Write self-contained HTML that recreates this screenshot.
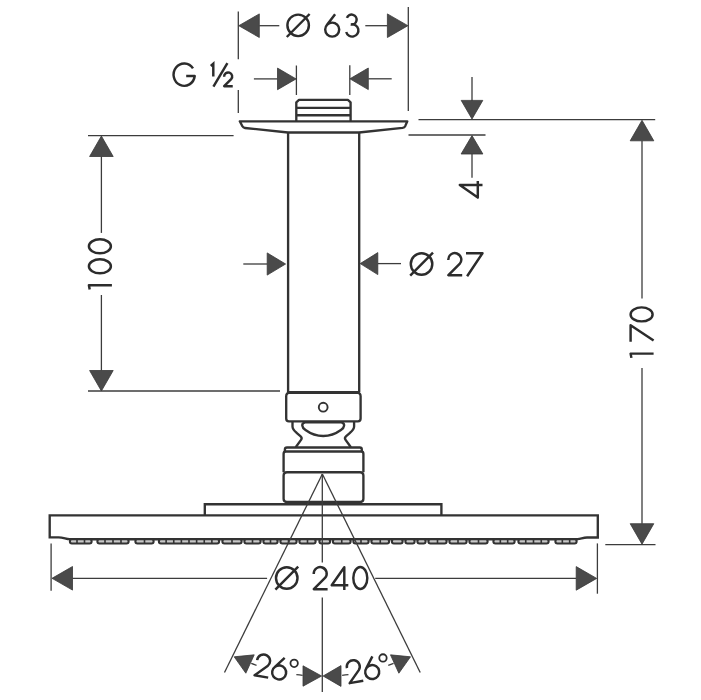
<!DOCTYPE html>
<html><head><meta charset="utf-8"><title>Ceiling shower head – dimensions</title><style>
html,body{margin:0;padding:0;background:#fff;}
body{width:701px;height:700px;overflow:hidden;font-family:"Liberation Sans",sans-serif;}
svg{display:block;}
</style></head><body>
<svg width="701" height="700" viewBox="0 0 701 700" shape-rendering="geometricPrecision" role="img" aria-label="Ceiling shower head dimension drawing: Ø 63, G ½, 4, 100, 170, Ø 27, Ø 240, 26°, 26°">
<rect width="701" height="700" fill="#fff"/>
<path d="M296.3,121 V102.3 L299,99.8 H347.9 L350.6,102.3 V121" stroke="#333333" stroke-width="2.35" fill="none" stroke-linejoin="round"/>
<line x1="296.40" y1="107.80" x2="350.60" y2="107.80" stroke="#333333" stroke-width="2.35"/>
<line x1="296.40" y1="115.20" x2="350.60" y2="115.20" stroke="#333333" stroke-width="2.35"/>
<path d="M239.8,121.3 H407.3 L405.3,125.9 Q404.5,127.6 402.5,127.9 L359,132.5 H288 L245,128.0 Q243.2,127.8 242.4,126.3 Z" stroke="#333333" stroke-width="2.35" fill="none" stroke-linejoin="round"/>
<line x1="288.10" y1="132.50" x2="288.10" y2="392.00" stroke="#333333" stroke-width="2.35"/>
<line x1="359.20" y1="132.50" x2="359.20" y2="392.00" stroke="#333333" stroke-width="2.35"/>
<path d="M286.2,396.3 Q286.2,392.6 289.9,392.6 H356.9 Q360.6,392.6 360.6,396.3 V418.6 Q360.6,421.3 357.9,421.3 H288.9 Q286.2,421.3 286.2,418.6 Z" stroke="#333333" stroke-width="2.35" fill="none" />
<line x1="287.50" y1="392.60" x2="359.60" y2="392.60" stroke="#333333" stroke-width="3.0"/>
<circle cx="323.2" cy="407.2" r="4.4" stroke="#333333" stroke-width="1.9" fill="none"/>
<path d="M292.5,421.5 L292.5,426.6 C292.5,429.2 294,430.8 296.6,432.8 L300.4,436.1 Q302.4,437.9 301.2,439.6 L295.7,447.3" stroke="#333333" stroke-width="2.35" fill="none" stroke-linejoin="round"/>
<path d="M354.1,421.5 L354.1,426.6 C354.1,429.2 352.6,430.8 350,432.8 L346.2,436.1 Q344.2,437.9 345.4,439.6 L350.9,447.3" stroke="#333333" stroke-width="2.35" fill="none" stroke-linejoin="round"/>
<path d="M305,422.4 C301,423.4 301.6,427.4 305.5,430 C311,434 317,436 323.2,436 C329.4,436 335.4,434 340.9,430 C344.8,427.4 345.4,423.4 341.4,422.4 Z" stroke="#333333" stroke-width="2.35" fill="none" />
<path d="M284.9,451.5 V449.6 Q284.9,447.5 287,447.5 H359.8 Q361.8,447.5 361.8,449.6 V451.5" stroke="#333333" stroke-width="2.35" fill="none" />
<path d="M283.6,472.2 V453.7 Q283.6,451.5 286,451.5 H361 Q363.4,451.5 363.4,453.7 V472.2" stroke="#333333" stroke-width="2.35" fill="none" />
<path d="M283.6,475.6 Q283.6,472.2 287,472.2 H360 Q363.4,472.2 363.4,475.6 V498.8 Q363.4,502 360.2,502 H286.8 Q283.6,502 283.6,498.8 Z" stroke="#333333" stroke-width="2.35" fill="none" />
<line x1="285.50" y1="502.30" x2="361.50" y2="502.30" stroke="#333333" stroke-width="2.6"/>
<path d="M204.8,515.4 V504.2 H441.4 V515.4" stroke="#333333" stroke-width="2.35" fill="none" />
<path d="M49.7,515.4 H597.8 V537.5 H587 C583,537.5 581,539 577.5,539.2 L69.5,539.2 C66,539 63,537.3 58.6,537.3 H49.7 Z" stroke="#333333" stroke-width="2.35" fill="none" />
<rect x="69.90" y="539.2" width="21.70" height="4.3" rx="2.0" fill="#c8c8c8" stroke="#333333" stroke-width="2.1"/>
<line x1="77.00" y1="539.5" x2="77.00" y2="543.2" stroke="#333333" stroke-width="1.6"/>
<line x1="84.50" y1="539.5" x2="84.50" y2="543.2" stroke="#333333" stroke-width="1.6"/>
<rect x="97.40" y="539.2" width="31.20" height="4.3" rx="2.0" fill="#c8c8c8" stroke="#333333" stroke-width="2.1"/>
<line x1="105.00" y1="539.5" x2="105.00" y2="543.2" stroke="#333333" stroke-width="1.6"/>
<line x1="113.00" y1="539.5" x2="113.00" y2="543.2" stroke="#333333" stroke-width="1.6"/>
<line x1="121.00" y1="539.5" x2="121.00" y2="543.2" stroke="#333333" stroke-width="1.6"/>
<rect x="135.40" y="539.2" width="18.20" height="4.3" rx="2.0" fill="#c8c8c8" stroke="#333333" stroke-width="2.1"/>
<line x1="144.50" y1="539.5" x2="144.50" y2="543.2" stroke="#333333" stroke-width="1.6"/>
<rect x="158.90" y="539.2" width="60.20" height="4.3" rx="2.0" fill="#c8c8c8" stroke="#333333" stroke-width="2.1"/>
<line x1="166.12" y1="539.5" x2="166.12" y2="543.2" stroke="#333333" stroke-width="1.6"/>
<line x1="173.75" y1="539.5" x2="173.75" y2="543.2" stroke="#333333" stroke-width="1.6"/>
<line x1="181.38" y1="539.5" x2="181.38" y2="543.2" stroke="#333333" stroke-width="1.6"/>
<line x1="189.00" y1="539.5" x2="189.00" y2="543.2" stroke="#333333" stroke-width="1.6"/>
<line x1="196.62" y1="539.5" x2="196.62" y2="543.2" stroke="#333333" stroke-width="1.6"/>
<line x1="204.25" y1="539.5" x2="204.25" y2="543.2" stroke="#333333" stroke-width="1.6"/>
<line x1="211.88" y1="539.5" x2="211.88" y2="543.2" stroke="#333333" stroke-width="1.6"/>
<rect x="222.40" y="539.2" width="19.20" height="4.3" rx="2.0" fill="#c8c8c8" stroke="#333333" stroke-width="2.1"/>
<line x1="232.00" y1="539.5" x2="232.00" y2="543.2" stroke="#333333" stroke-width="1.6"/>
<rect x="244.40" y="539.2" width="16.20" height="4.3" rx="2.0" fill="#c8c8c8" stroke="#333333" stroke-width="2.1"/>
<line x1="252.50" y1="539.5" x2="252.50" y2="543.2" stroke="#333333" stroke-width="1.6"/>
<rect x="263.40" y="539.2" width="14.20" height="4.3" rx="2.0" fill="#c8c8c8" stroke="#333333" stroke-width="2.1"/>
<line x1="270.50" y1="539.5" x2="270.50" y2="543.2" stroke="#333333" stroke-width="1.6"/>
<rect x="280.40" y="539.2" width="16.20" height="4.3" rx="2.0" fill="#c8c8c8" stroke="#333333" stroke-width="2.1"/>
<line x1="288.50" y1="539.5" x2="288.50" y2="543.2" stroke="#333333" stroke-width="1.6"/>
<rect x="299.40" y="539.2" width="16.20" height="4.3" rx="2.0" fill="#c8c8c8" stroke="#333333" stroke-width="2.1"/>
<line x1="307.50" y1="539.5" x2="307.50" y2="543.2" stroke="#333333" stroke-width="1.6"/>
<rect x="319.40" y="539.2" width="10.70" height="4.3" rx="2.0" fill="#c8c8c8" stroke="#333333" stroke-width="2.1"/>
<rect x="332.90" y="539.2" width="17.70" height="4.3" rx="2.0" fill="#c8c8c8" stroke="#333333" stroke-width="2.1"/>
<line x1="341.75" y1="539.5" x2="341.75" y2="543.2" stroke="#333333" stroke-width="1.6"/>
<rect x="353.40" y="539.2" width="15.20" height="4.3" rx="2.0" fill="#c8c8c8" stroke="#333333" stroke-width="2.1"/>
<line x1="361.00" y1="539.5" x2="361.00" y2="543.2" stroke="#333333" stroke-width="1.6"/>
<rect x="371.40" y="539.2" width="17.70" height="4.3" rx="2.0" fill="#c8c8c8" stroke="#333333" stroke-width="2.1"/>
<line x1="380.25" y1="539.5" x2="380.25" y2="543.2" stroke="#333333" stroke-width="1.6"/>
<rect x="391.90" y="539.2" width="10.70" height="4.3" rx="2.0" fill="#c8c8c8" stroke="#333333" stroke-width="2.1"/>
<rect x="405.40" y="539.2" width="9.20" height="4.3" rx="2.0" fill="#c8c8c8" stroke="#333333" stroke-width="2.1"/>
<rect x="417.40" y="539.2" width="8.20" height="4.3" rx="2.0" fill="#c8c8c8" stroke="#333333" stroke-width="2.1"/>
<rect x="428.40" y="539.2" width="18.20" height="4.3" rx="2.0" fill="#c8c8c8" stroke="#333333" stroke-width="2.1"/>
<line x1="437.50" y1="539.5" x2="437.50" y2="543.2" stroke="#333333" stroke-width="1.6"/>
<rect x="449.40" y="539.2" width="17.20" height="4.3" rx="2.0" fill="#c8c8c8" stroke="#333333" stroke-width="2.1"/>
<line x1="458.00" y1="539.5" x2="458.00" y2="543.2" stroke="#333333" stroke-width="1.6"/>
<rect x="469.40" y="539.2" width="18.20" height="4.3" rx="2.0" fill="#c8c8c8" stroke="#333333" stroke-width="2.1"/>
<line x1="478.50" y1="539.5" x2="478.50" y2="543.2" stroke="#333333" stroke-width="1.6"/>
<rect x="493.40" y="539.2" width="21.20" height="4.3" rx="2.0" fill="#c8c8c8" stroke="#333333" stroke-width="2.1"/>
<line x1="500.33" y1="539.5" x2="500.33" y2="543.2" stroke="#333333" stroke-width="1.6"/>
<line x1="507.67" y1="539.5" x2="507.67" y2="543.2" stroke="#333333" stroke-width="1.6"/>
<rect x="518.40" y="539.2" width="30.20" height="4.3" rx="2.0" fill="#c8c8c8" stroke="#333333" stroke-width="2.1"/>
<line x1="525.75" y1="539.5" x2="525.75" y2="543.2" stroke="#333333" stroke-width="1.6"/>
<line x1="533.50" y1="539.5" x2="533.50" y2="543.2" stroke="#333333" stroke-width="1.6"/>
<line x1="541.25" y1="539.5" x2="541.25" y2="543.2" stroke="#333333" stroke-width="1.6"/>
<rect x="555.40" y="539.2" width="21.20" height="4.3" rx="2.0" fill="#c8c8c8" stroke="#333333" stroke-width="2.1"/>
<line x1="562.33" y1="539.5" x2="562.33" y2="543.2" stroke="#333333" stroke-width="1.6"/>
<line x1="569.67" y1="539.5" x2="569.67" y2="543.2" stroke="#333333" stroke-width="1.6"/>
<line x1="238.30" y1="11.50" x2="238.30" y2="59.30" stroke="#3c3c3c" stroke-width="1.3"/>
<line x1="238.30" y1="90.00" x2="238.30" y2="112.90" stroke="#3c3c3c" stroke-width="1.3"/>
<line x1="408.30" y1="7.00" x2="408.30" y2="111.00" stroke="#3c3c3c" stroke-width="1.3"/>
<path d="M238.80,25.70 L259.30,13.90 L259.30,37.50 Z" fill="#4a4a4a" stroke="#383838" stroke-width="0.8" stroke-linejoin="miter"/>
<line x1="259.30" y1="25.70" x2="279.30" y2="25.70" stroke="#3c3c3c" stroke-width="1.3"/>
<path d="M407.90,25.70 L387.40,37.50 L387.40,13.90 Z" fill="#4a4a4a" stroke="#383838" stroke-width="0.8" stroke-linejoin="miter"/>
<line x1="365.30" y1="25.70" x2="387.40" y2="25.70" stroke="#3c3c3c" stroke-width="1.3"/>
<path transform="translate(286.40,13.60)" d="M1,11.75 A10.75,10.75 0 1,1 22.5,11.75 A10.75,10.75 0 1,1 1,11.75 Z M0.4,23.4 L23.2,0.4" stroke="#2c2c2c" stroke-width="2.45" fill="none" stroke-linejoin="round"/>
<path transform="translate(324.20,13.60)" d="M10.9,0.6 L2.45,11.76 M1,16 A7,7 0 1,1 15,16 A7,7 0 1,1 1,16 Z" stroke="#2c2c2c" stroke-width="2.45" fill="none" stroke-linejoin="round"/>
<path transform="translate(344.60,13.60)" d="M2.30,4.29 A5,5 0 1,1 6.13,10.92 M6.31,10.74 A6.2,6.2 0 1,1 1.61,18.40" stroke="#2c2c2c" stroke-width="2.45" fill="none" stroke-linejoin="round"/>
<line x1="296.40" y1="65.50" x2="296.40" y2="95.00" stroke="#3c3c3c" stroke-width="1.3"/>
<line x1="349.80" y1="65.20" x2="349.80" y2="95.00" stroke="#3c3c3c" stroke-width="1.3"/>
<path d="M296.10,78.90 L277.50,89.70 L277.50,68.10 Z" fill="#4a4a4a" stroke="#383838" stroke-width="0.8" stroke-linejoin="miter"/>
<line x1="253.90" y1="78.90" x2="277.50" y2="78.90" stroke="#3c3c3c" stroke-width="1.3"/>
<path d="M349.90,78.80 L368.30,68.00 L368.30,89.60 Z" fill="#4a4a4a" stroke="#383838" stroke-width="0.8" stroke-linejoin="miter"/>
<line x1="368.30" y1="78.80" x2="391.70" y2="78.80" stroke="#3c3c3c" stroke-width="1.3"/>
<path transform="translate(172.60,62.40)" d="M20.39,5.94 A10.6,11.2 0 1,0 22.12,13.60 L13.6,13.6" stroke="#2c2c2c" stroke-width="2.45" fill="none" stroke-linejoin="round"/>
<path d="M210.8,66.0 L213.3,63.8 L213.3,76.5" stroke="#2c2c2c" stroke-width="2.45" fill="none" />
<path d="M213.4,86.6 L227.4,63.2" stroke="#2c2c2c" stroke-width="2.45" fill="none" />
<path transform="translate(223.50,71.90) scale(0.62)" d="M1.01,7.74 A6.5,6.5 0 1,1 12.33,11.75 L1.1,23 L14.9,23" stroke="#2c2c2c" stroke-width="3.95" fill="none" stroke-linejoin="round"/>
<line x1="472.00" y1="77.00" x2="472.00" y2="101.00" stroke="#3c3c3c" stroke-width="1.3"/>
<path d="M472.00,119.00 L461.20,100.40 L482.80,100.40 Z" fill="#4a4a4a" stroke="#383838" stroke-width="0.8" stroke-linejoin="miter"/>
<path d="M472.00,135.60 L482.90,154.00 L461.10,154.00 Z" fill="#4a4a4a" stroke="#383838" stroke-width="0.8" stroke-linejoin="miter"/>
<line x1="472.00" y1="154.00" x2="472.00" y2="177.80" stroke="#3c3c3c" stroke-width="1.3"/>
<line x1="418.50" y1="119.70" x2="655.20" y2="119.70" stroke="#3c3c3c" stroke-width="1.3"/>
<line x1="408.50" y1="135.00" x2="485.50" y2="135.00" stroke="#3c3c3c" stroke-width="1.3"/>
<path transform="translate(458.50,198.00) rotate(-90)" d="M13,24 L13,1.3 L0.4,19.3 L17,19.3" stroke="#2c2c2c" stroke-width="2.45" fill="none" stroke-linejoin="round"/>
<path d="M642.00,120.30 L653.80,140.80 L630.20,140.80 Z" fill="#4a4a4a" stroke="#383838" stroke-width="0.8" stroke-linejoin="miter"/>
<line x1="642.00" y1="140.80" x2="642.00" y2="298.60" stroke="#3c3c3c" stroke-width="1.3"/>
<path d="M642.00,544.20 L630.20,523.70 L653.80,523.70 Z" fill="#4a4a4a" stroke="#383838" stroke-width="0.8" stroke-linejoin="miter"/>
<line x1="642.00" y1="367.90" x2="642.00" y2="523.70" stroke="#3c3c3c" stroke-width="1.3"/>
<line x1="605.30" y1="544.60" x2="655.50" y2="544.60" stroke="#3c3c3c" stroke-width="1.3"/>
<path transform="translate(629.60,358.60) rotate(-90)" d="M0.7,1.8 L5,1 L5,24" stroke="#2c2c2c" stroke-width="2.45" fill="none" stroke-linejoin="round"/>
<path transform="translate(629.60,342.20) rotate(-90)" d="M0.5,1 L17,1 L1.6,24" stroke="#2c2c2c" stroke-width="2.45" fill="none" stroke-linejoin="round"/>
<path transform="translate(629.60,322.40) rotate(-90)" d="M1,12 A7,11 0 1,1 15,12 A7,11 0 1,1 1,12 Z" stroke="#2c2c2c" stroke-width="2.45" fill="none" stroke-linejoin="round"/>
<path d="M101.40,136.00 L113.20,156.50 L89.60,156.50 Z" fill="#4a4a4a" stroke="#383838" stroke-width="0.8" stroke-linejoin="miter"/>
<line x1="101.40" y1="156.50" x2="101.40" y2="232.90" stroke="#3c3c3c" stroke-width="1.3"/>
<path d="M101.40,391.00 L89.60,370.50 L113.20,370.50 Z" fill="#4a4a4a" stroke="#383838" stroke-width="0.8" stroke-linejoin="miter"/>
<line x1="101.40" y1="295.00" x2="101.40" y2="370.50" stroke="#3c3c3c" stroke-width="1.3"/>
<line x1="88.00" y1="135.70" x2="233.60" y2="135.70" stroke="#3c3c3c" stroke-width="1.3"/>
<line x1="88.00" y1="391.00" x2="280.00" y2="391.00" stroke="#3c3c3c" stroke-width="1.3"/>
<path transform="translate(87.90,290.20) rotate(-90)" d="M0.7,1.8 L5,1 L5,24" stroke="#2c2c2c" stroke-width="2.45" fill="none" stroke-linejoin="round"/>
<path transform="translate(87.90,274.30) rotate(-90)" d="M1,12 A7,11 0 1,1 15,12 A7,11 0 1,1 1,12 Z" stroke="#2c2c2c" stroke-width="2.45" fill="none" stroke-linejoin="round"/>
<path transform="translate(87.90,254.30) rotate(-90)" d="M1,12 A7,11 0 1,1 15,12 A7,11 0 1,1 1,12 Z" stroke="#2c2c2c" stroke-width="2.45" fill="none" stroke-linejoin="round"/>
<path d="M285.60,264.00 L267.20,275.10 L267.20,252.90 Z" fill="#4a4a4a" stroke="#383838" stroke-width="0.8" stroke-linejoin="miter"/>
<line x1="243.30" y1="264.00" x2="267.20" y2="264.00" stroke="#3c3c3c" stroke-width="1.3"/>
<path d="M360.20,263.60 L377.80,252.60 L377.80,274.60 Z" fill="#4a4a4a" stroke="#383838" stroke-width="0.8" stroke-linejoin="miter"/>
<line x1="377.80" y1="263.60" x2="401.00" y2="263.60" stroke="#3c3c3c" stroke-width="1.3"/>
<path transform="translate(409.80,252.20)" d="M1,11.75 A10.75,10.75 0 1,1 22.5,11.75 A10.75,10.75 0 1,1 1,11.75 Z M0.4,23.4 L23.2,0.4" stroke="#2c2c2c" stroke-width="2.45" fill="none" stroke-linejoin="round"/>
<path transform="translate(447.30,252.20)" d="M1.01,7.74 A6.5,6.5 0 1,1 12.33,11.75 L1.1,23 L14.9,23" stroke="#2c2c2c" stroke-width="2.45" fill="none" stroke-linejoin="round"/>
<path transform="translate(465.50,252.20)" d="M0.5,1 L17,1 L1.6,24" stroke="#2c2c2c" stroke-width="2.45" fill="none" stroke-linejoin="round"/>
<line x1="51.10" y1="543.60" x2="51.10" y2="590.70" stroke="#3c3c3c" stroke-width="1.3"/>
<line x1="597.40" y1="543.40" x2="597.40" y2="593.70" stroke="#3c3c3c" stroke-width="1.3"/>
<path d="M52.00,578.30 L72.50,566.50 L72.50,590.10 Z" fill="#4a4a4a" stroke="#383838" stroke-width="0.8" stroke-linejoin="miter"/>
<line x1="72.50" y1="578.30" x2="267.10" y2="578.30" stroke="#3c3c3c" stroke-width="1.3"/>
<path d="M596.70,578.40 L576.20,590.20 L576.20,566.60 Z" fill="#4a4a4a" stroke="#383838" stroke-width="0.8" stroke-linejoin="miter"/>
<line x1="375.20" y1="578.40" x2="576.20" y2="578.40" stroke="#3c3c3c" stroke-width="1.3"/>
<path transform="translate(275.00,566.20)" d="M1,11.75 A10.75,10.75 0 1,1 22.5,11.75 A10.75,10.75 0 1,1 1,11.75 Z M0.4,23.4 L23.2,0.4" stroke="#2c2c2c" stroke-width="2.45" fill="none" stroke-linejoin="round"/>
<path transform="translate(312.70,566.20)" d="M1.01,7.74 A6.5,6.5 0 1,1 12.33,11.75 L1.1,23 L14.9,23" stroke="#2c2c2c" stroke-width="2.45" fill="none" stroke-linejoin="round"/>
<path transform="translate(331.30,566.00)" d="M13,24 L13,1.3 L0.4,19.3 L17,19.3" stroke="#2c2c2c" stroke-width="2.45" fill="none" stroke-linejoin="round"/>
<path transform="translate(352.30,566.00)" d="M1,12 A7,11 0 1,1 15,12 A7,11 0 1,1 1,12 Z" stroke="#2c2c2c" stroke-width="2.45" fill="none" stroke-linejoin="round"/>
<line x1="322.35" y1="474.00" x2="224.49" y2="672.50" stroke="#3c3c3c" stroke-width="1.3"/>
<line x1="322.35" y1="474.00" x2="420.21" y2="672.50" stroke="#3c3c3c" stroke-width="1.3"/>
<line x1="322.30" y1="474.00" x2="322.30" y2="562.50" stroke="#3c3c3c" stroke-width="1.3"/>
<line x1="322.30" y1="597.50" x2="322.30" y2="692.00" stroke="#3c3c3c" stroke-width="1.3"/>
<path d="M234.20,656.80 L254.22,654.83 L245.84,673.21 Z" fill="#4a4a4a" stroke="#383838" stroke-width="0.8" stroke-linejoin="miter"/>
<path d="M410.50,656.80 L398.86,673.21 L390.48,654.83 Z" fill="#4a4a4a" stroke="#383838" stroke-width="0.8" stroke-linejoin="miter"/>
<path d="M321.60,676.00 L303.00,686.20 L303.00,665.80 Z" fill="#4a4a4a" stroke="#383838" stroke-width="0.8" stroke-linejoin="miter"/>
<path d="M323.10,676.00 L341.00,665.60 L341.00,686.40 Z" fill="#4a4a4a" stroke="#383838" stroke-width="0.8" stroke-linejoin="miter"/>
<path d="M251.22,663.36 A202.3,202.3 0 0,1 256.54,665.28" stroke="#3c3c3c" stroke-width="1.3" fill="none"/>
<path d="M296.34,674.62 A202.3,202.3 0 0,1 302.66,675.33" stroke="#3c3c3c" stroke-width="1.3" fill="none"/>
<path d="M342.14,675.33 A202.3,202.3 0 0,1 348.46,674.62" stroke="#3c3c3c" stroke-width="1.3" fill="none"/>
<path d="M388.26,665.28 A202.3,202.3 0 0,1 393.58,663.36" stroke="#3c3c3c" stroke-width="1.3" fill="none"/>
<path transform="translate(257.50,652.40) rotate(10)" d="M1.01,7.74 A6.5,6.5 0 1,1 12.33,11.75 L1.1,23 L14.9,23" stroke="#2c2c2c" stroke-width="2.45" fill="none" stroke-linejoin="round"/>
<path transform="translate(274.04,655.32) rotate(10)" d="M10.9,0.6 L2.45,11.76 M1,16 A7,7 0 1,1 15,16 A7,7 0 1,1 1,16 Z" stroke="#2c2c2c" stroke-width="2.45" fill="none" stroke-linejoin="round"/>
<circle cx="294.16" cy="663.33" r="3.7" stroke="#2c2c2c" stroke-width="1.8" fill="none"/>
<path transform="translate(344.60,660.70) rotate(-10)" d="M1.01,7.74 A6.5,6.5 0 1,1 12.33,11.75 L1.1,23 L14.9,23" stroke="#2c2c2c" stroke-width="2.45" fill="none" stroke-linejoin="round"/>
<path transform="translate(361.54,657.71) rotate(-10)" d="M10.9,0.6 L2.45,11.76 M1,16 A7,7 0 1,1 15,16 A7,7 0 1,1 1,16 Z" stroke="#2c2c2c" stroke-width="2.45" fill="none" stroke-linejoin="round"/>
<circle cx="382.97" cy="657.96" r="3.7" stroke="#2c2c2c" stroke-width="1.8" fill="none"/>
</svg>
</body></html>
